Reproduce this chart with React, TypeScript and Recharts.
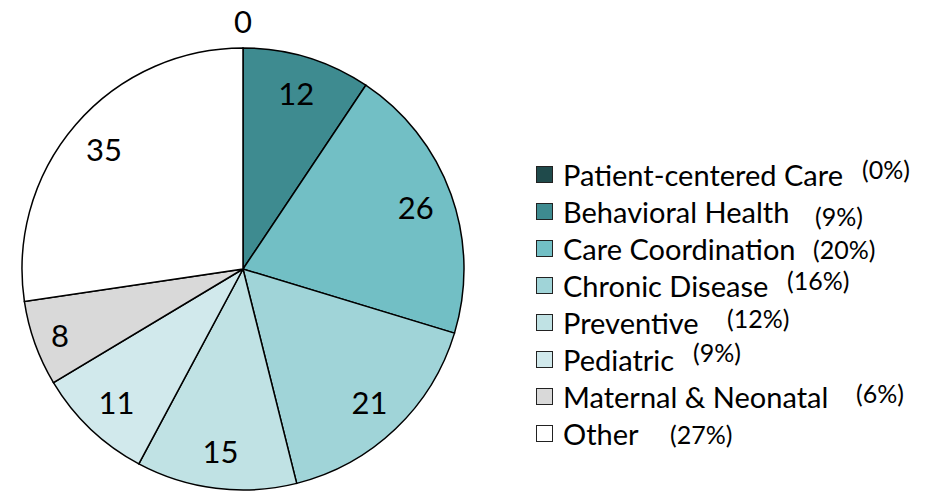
import React from 'react';
import { PieChart, Pie, Cell, Legend } from 'recharts';

const categories = ['Patient-centered Care', 'Behavioral Health', 'Care Coordination', 'Chronic Disease', 'Preventive', 'Pediatric', 'Maternal & Neonatal', 'Other'];
const counts = [0, 12, 26, 21, 15, 11, 8, 35];
const colors = ['#1f4a4b', '#3e8b90', '#72bfc5', '#a0d4d8', '#c0e2e4', '#d1e9ec', '#d9d9d9', '#ffffff'];

// layout offsets of the percentage labels (x left, dy from row centre)
const pctLayout = [
  { x: 862, dy: -6 },
  { x: 815, dy: 4 },
  { x: 813, dy: 0 },
  { x: 787, dy: -6 },
  { x: 727, dy: -5 },
  { x: 693, dy: -8 },
  { x: 856, dy: -4 },
  { x: 670, dy: 0 },
];

const data = categories.map((name, i) => ({ name, value: counts[i] }));
const total = counts.reduce((a, b) => a + b, 0);

const FONT = 'Lato, "Open Sans", sans-serif';
const RAD = Math.PI / 180;

const renderLabel = (props: any) => {
  const { cx, cy, midAngle, outerRadius, value } = props;
  const r = value === 0 ? outerRadius + 27 : outerRadius * (value < 10 ? 0.88 : 0.83);
  const x = cx + r * Math.cos(-midAngle * RAD);
  const y = cy + r * Math.sin(-midAngle * RAD);
  return (
    <text x={x} y={y} textAnchor="middle" dominantBaseline="central" fontFamily={FONT} fontSize={31} fill="#000">
      {value}
    </text>
  );
};

const LEGEND_TOP = 175;
const ROW = 37;

const renderLegend = () => (
  <div style={{ position: 'relative', width: 935, height: 491 }}>
    {data.map((d, i) => {
      const yc = LEGEND_TOP + i * ROW;
      const pct = Math.round((d.value / total) * 100);
      return (
        <React.Fragment key={d.name}>
          <div
            style={{
              position: 'absolute',
              left: 536,
              top: yc - 9,
              width: 15,
              height: 15,
              background: colors[i],
              border: '1.5px solid #222',
            }}
          />
          <div
            style={{
              position: 'absolute',
              left: 563,
              top: yc - 20,
              height: 40,
              lineHeight: '40px',
              fontFamily: FONT,
              fontSize: 29,
              color: '#000',
              whiteSpace: 'nowrap',
            }}
          >
            {d.name}
          </div>
          <div
            style={{
              position: 'absolute',
              left: pctLayout[i].x,
              top: yc + pctLayout[i].dy - 15,
              height: 30,
              lineHeight: '30px',
              fontFamily: FONT,
              fontSize: 25,
              color: '#000',
              whiteSpace: 'nowrap',
            }}
          >
            ({pct}%)
          </div>
        </React.Fragment>
      );
    })}
  </div>
);

export default function App() {
  return (
    <div style={{ position: 'absolute', left: 0, top: 0, width: 935, height: 491, background: '#fff' }}>
      <PieChart width={935} height={491} margin={{ top: 0, right: 0, bottom: 0, left: 0 }}>
        <Pie
          data={data}
          dataKey="value"
          nameKey="name"
          cx={243}
          cy={269}
          outerRadius={221}
          startAngle={90}
          endAngle={-270}
          stroke="#000"
          strokeWidth={1.5}
          label={renderLabel}
          labelLine={false}
          isAnimationActive={false}
        >
          {data.map((d, i) => (
            <Cell key={d.name} fill={colors[i]} />
          ))}
        </Pie>
        <Legend
          content={renderLegend}
          wrapperStyle={{ position: 'absolute', left: 0, top: 0, width: 935, height: 491, pointerEvents: 'none' }}
        />
      </PieChart>
    </div>
  );
}
